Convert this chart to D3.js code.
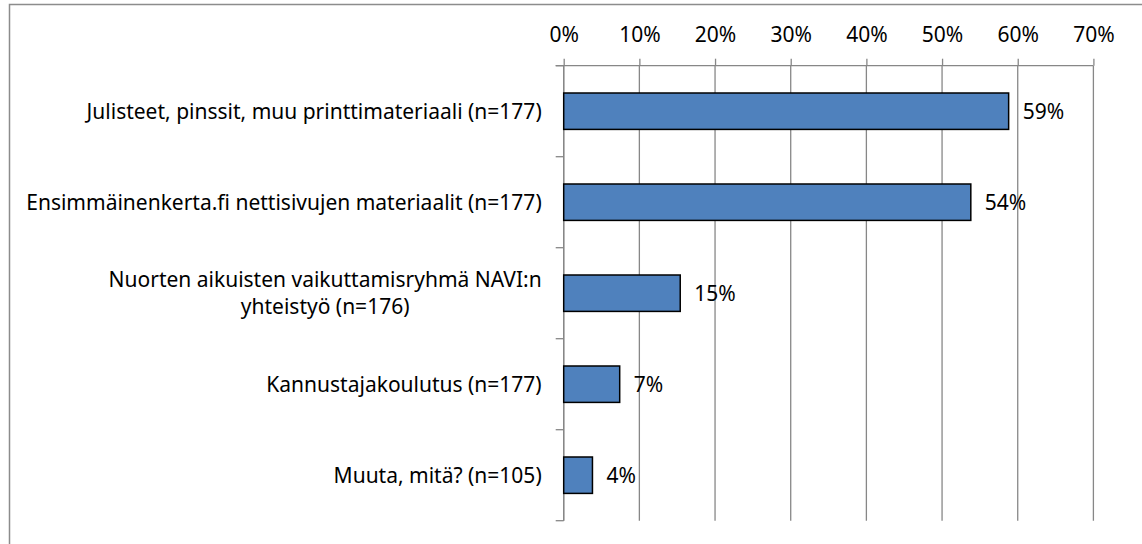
<!DOCTYPE html>
<html>
<head>
<meta charset="utf-8">
<script src="https://cdn.jsdelivr.net/npm/d3@7"></script>
<style>
  html, body { margin: 0; padding: 0; background: #fff; }
  svg { display: block; font-family: "Noto Sans", sans-serif; }
</style>
</head>
<body>
<div id="chart"></div>
<script>
// data
const categories = [
  ["Julisteet, pinssit, muu printtimateriaali (n=177)"],
  ["Ensimmäinenkerta.fi nettisivujen materiaalit (n=177)"],
  ["Nuorten aikuisten vaikuttamisryhmä NAVI:n", "yhteistyö (n=176)"],
  ["Kannustajakoulutus (n=177)"],
  ["Muuta, mitä? (n=105)"]
]
const values = [58.8, 53.8, 15.4, 7.4, 3.8]
const xTicks = [0, 10, 20, 30, 40, 50, 60, 70]

const width = 1142
const height = 544
const margin = { top: 65.7, left: 563.7, right: 48.6, bottom: 23.3 }
const gridColor = "#878787"
const fontSize = 21

const svg = d3.select("#chart")
  .append("svg")
  .attr("width", width)
  .attr("height", height)

// outer chart frame (runs past the right and bottom edge)
svg.append("rect")
  .attr("x", 9.5)
  .attr("y", 4.5)
  .attr("width", 1300)
  .attr("height", 700)
  .attr("fill", "none")
  .attr("stroke", "#8c8c8c")
  .attr("stroke-width", 1.5)

const x = d3.scaleLinear()
  .domain([0, 70])
  .range([margin.left, width - margin.right])

const y = d3.scaleBand()
  .domain(d3.range(categories.length))
  .range([margin.top, height - margin.bottom])
  .paddingInner(0.6)
  .paddingOuter(0.3)

const yEdge = d3.scaleLinear()
  .domain([0, categories.length])
  .range([margin.top, height - margin.bottom])

// vertical gridlines
svg.append("g")
  .selectAll("line")
  .data(xTicks)
  .join("line")
    .attr("x1", d => x(d))
    .attr("x2", d => x(d))
    .attr("y1", margin.top)
    .attr("y2", height - margin.bottom)
    .attr("stroke", gridColor)
    .attr("stroke-width", 1.3)

// top axis
const xAxis = svg.append("g")
  .attr("transform", `translate(0,${margin.top})`)
  .call(d3.axisTop(x)
    .tickValues(xTicks)
    .tickFormat(d => d + "%")
    .tickSize(7)
    .tickPadding(17))
xAxis.select(".domain")
  .attr("d", `M${x(0) - 8},0H${x(70)}`)
  .attr("stroke", gridColor)
  .attr("stroke-width", 1.3)
xAxis.selectAll(".tick line").attr("stroke", gridColor).attr("stroke-width", 1.3)
xAxis.selectAll(".tick text")
  .attr("font-family", "Noto Sans")
  .attr("font-size", fontSize)
  .attr("fill", "#000")

// left axis line and category ticks
svg.append("line")
  .attr("x1", x(0))
  .attr("x2", x(0))
  .attr("y1", margin.top)
  .attr("y2", height - margin.bottom)
  .attr("stroke", gridColor)
  .attr("stroke-width", 1.3)
svg.append("g")
  .selectAll("line")
  .data(d3.range(categories.length + 1))
  .join("line")
    .attr("x1", x(0) - 8)
    .attr("x2", x(0))
    .attr("y1", d => yEdge(d))
    .attr("y2", d => yEdge(d))
    .attr("stroke", gridColor)
    .attr("stroke-width", 1.3)

// bars
svg.append("g")
  .selectAll("rect")
  .data(values)
  .join("rect")
    .attr("x", x(0))
    .attr("y", (d, i) => y(i))
    .attr("width", d => x(d) - x(0))
    .attr("height", y.bandwidth())
    .attr("fill", "#4f81bd")
    .attr("stroke", "#000")
    .attr("stroke-width", 1.5)

// value labels
svg.append("g")
  .selectAll("text")
  .data(values)
  .join("text")
    .attr("x", d => x(d) + 14)
    .attr("y", (d, i) => y(i) + y.bandwidth() / 2)
    .attr("dy", "0.35em")
    .attr("font-size", fontSize)
    .text(d => Math.round(d) + "%")

// category labels, lines centred within a block right-aligned to the axis
const labelRight = x(0) - 22
const lineHeight = 27
const labels = svg.append("g")
  .selectAll("text")
  .data(categories)
  .join("text")
    .attr("font-size", fontSize)
    .attr("text-anchor", "middle")

labels.each(function (lines, i) {
  const t = d3.select(this)
  const cy = y(i) + y.bandwidth() / 2
  const spans = lines.map((line, j) => t.append("tspan")
    .attr("x", 0)
    .attr("y", cy + (j - (lines.length - 1) / 2) * lineHeight)
    .attr("dy", "0.35em")
    .text(line))
  const w = d3.max(spans, s => s.node().getComputedTextLength())
  spans.forEach(s => s.attr("x", labelRight - w / 2))
})
</script>
</body>
</html>
